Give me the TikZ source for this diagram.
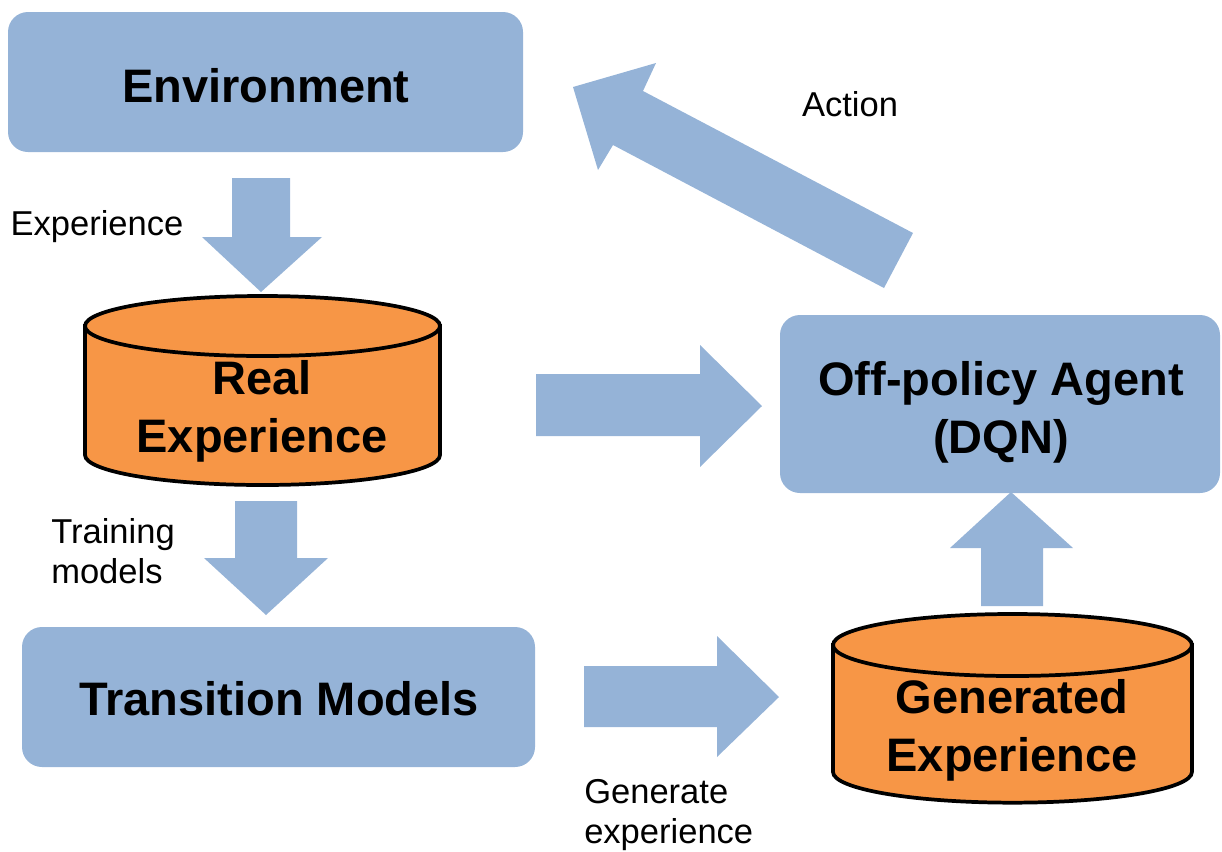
\documentclass[tikz,border=0pt]{standalone}
\usepackage{fontspec}
\setmainfont{Liberation Sans}
\definecolor{blk}{HTML}{95B3D7}
\definecolor{org}{HTML}{F79646}
\begin{document}
\begin{tikzpicture}[x=0.75pt,y=-0.75pt,
  box/.style={fill=blk, rounded corners=15pt, inner sep=0pt},
  bigtext/.style={inner sep=0pt, align=center, font=\fontsize{35.25}{43.5}\selectfont\bfseries},
  lbl/.style={inner sep=0pt, font=\fontsize{25.9}{30}\selectfont},
  blockarrow/.style={fill=blk},
  cyl/.style={fill=org, draw=black, line width=2.8pt}]
\useasboundingbox (0,0) rectangle (1222,851);

% boxes
\node[box, minimum width=386.25pt, minimum height=105pt] (env) at (265.5,82) {};
\node[bigtext] (envt) at (266,86) {Environment};
\node[box, minimum width=330pt, minimum height=133.5pt] (agent) at (1000,404) {};
\node[bigtext] (agentt) at (1001,412) {Off-policy Agent\\(DQN)};
\node[box, minimum width=384.75pt, minimum height=105pt] (trans) at (278.5,697) {};
\node[bigtext] (transt) at (279,699) {Transition Models};

% Real Experience cylinder
\path[cyl] (85,326) -- (85,455) arc[start angle=180, end angle=360, x radius=133.125pt, y radius=22.5pt] -- (440,326) -- cycle;
\path[cyl] (262.5,326) ellipse [x radius=133.125pt, y radius=22.5pt];
\node[bigtext] (real) at (262,411) {Real\\Experience};

% Generated Experience cylinder
\path[cyl] (833,645) -- (833,772) arc[start angle=180, end angle=360, x radius=134.6pt, y radius=23pt] -- (1192,645) -- cycle;
\path[cyl] (1012.5,645) ellipse [x radius=134.6pt, y radius=23.25pt];
\node[bigtext] (gen) at (1012,730) {Generated\\Experience};

% block arrows
% Environment -> Real Experience
\fill[blockarrow] (232,178) -- (290,178) -- (290,237) -- (322,237) -- (261,292) -- (202,237) -- (232,237) -- cycle;
% Real Experience -> Transition Models
\fill[blockarrow] (235,501) -- (297,501) -- (297,558) -- (328,558) -- (266,615) -- (204,558) -- (235,558) -- cycle;
% Real Experience -> Agent
\fill[blockarrow] (536,374) -- (700,374) -- (700,345) -- (762,406) -- (700,467) -- (700,436) -- (536,436) -- cycle;
% Transition Models -> Generated Experience
\fill[blockarrow] (584,666) -- (717,666) -- (717,636) -- (779,697) -- (717,757) -- (717,727) -- (584,727) -- cycle;
% Generated Experience -> Agent
\fill[blockarrow] (981,606) -- (981,548) -- (950,548) -- (1011,492) -- (1073,548) -- (1043,548) -- (1043,606) -- cycle;
% Agent -> Environment (Action)
\fill[blockarrow] (884,288) -- (613,145) -- (598,170) -- (573,87) -- (656,63) -- (643,91) -- (913,233) -- cycle;

% labels
\node[lbl] (lact) at (850,104) {Action};
\node[lbl] (lexp) at (97,227) {Experience};
\node[lbl, align=left, anchor=west] (ltrain) at (51,551) {Training\\models};
\node[lbl, align=left, anchor=west] (lgen) at (584,815) {Generate\\experience};
\end{tikzpicture}
\end{document}
